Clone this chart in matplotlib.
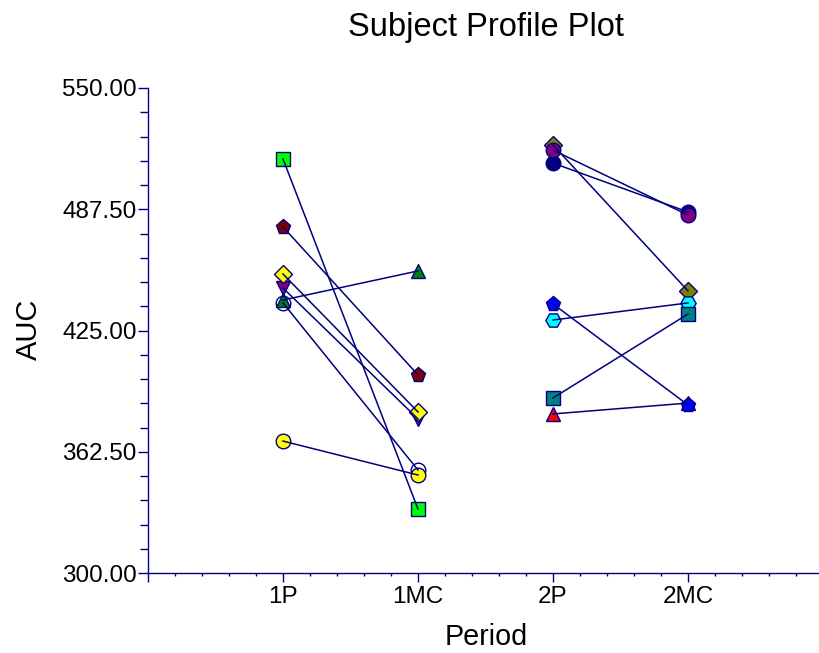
import numpy as np
import matplotlib
matplotlib.use('Agg')
import matplotlib.pyplot as plt
from matplotlib.ticker import FixedLocator, MultipleLocator

plt.rcParams['font.family'] = ['Liberation Sans', 'DejaVu Sans']

# period labels on the x axis
periods = ['1P', '1MC', '2P', '2MC']

# each subject: start period index, AUC in first and second period
start_pos = [1, 1, 1, 1, 1, 1, 1, 3, 3, 3, 3, 3, 3, 3]
auc_first = [513.4, 478.4, 446.9, 454.1, 440.7, 439.2, 368.0,
             520.6, 511.3, 518.0, 382.0, 438.7, 430.4, 390.2]
auc_second = [333.0, 402.1, 379.4, 383.0, 455.7, 353.1, 350.5,
              445.4, 486.1, 484.5, 387.6, 386.6, 439.2, 433.5]
markers = ['s', 'p', 'v', 'D', '^', 'o', 'o', 'D', 'o', 'o', '^', 'p', 'H', 's']
faces = ['#00FF00', '#800000', '#800080', '#FFFF00', '#008000', 'none', '#FFFF00',
         '#808000', '#000080', '#800080', '#FF0000', '#0000FF', '#00FFFF', '#008080']

navy = '#000080'
# marker sizes (points) per shape, to look alike in pixels
msize = {'s': 10, 'p': 11, 'v': 10, 'D': 9.5, '^': 10, 'o': 10.5, 'H': 11}

fig = plt.figure(figsize=(8.2, 6.53), dpi=100)
ax = fig.add_axes([148 / 820, 80 / 653, 672 / 820, 485 / 653])

for s, a, b, m, fc in zip(start_pos, auc_first, auc_second, markers, faces):
    xs = [s, s + 1]
    ys = [a, b]
    ax.plot(xs, ys, linestyle='none', marker=m, markersize=msize[m],
            markerfacecolor=fc, markeredgecolor=navy, markeredgewidth=1.0, zorder=2)
    ax.plot(xs, ys, color=navy, linewidth=1.1, zorder=3)

ax.set_xlim(0, 672 / 135)
ax.set_ylim(300, 550)

ax.xaxis.set_major_locator(FixedLocator([0, 1, 2, 3, 4]))
ax.set_xticklabels([''] + periods)
ax.xaxis.set_minor_locator(FixedLocator(np.arange(0, 5.0, 0.2)))
ax.yaxis.set_major_locator(FixedLocator([300, 362.5, 425, 487.5, 550]))
ax.set_yticklabels(['%.2f' % v for v in [300, 362.5, 425, 487.5, 550]])
ax.yaxis.set_minor_locator(MultipleLocator(12.5))

for side in ['top', 'right']:
    ax.spines[side].set_visible(False)
for side in ['left', 'bottom']:
    ax.spines[side].set_color(navy)
    ax.spines[side].set_linewidth(1.0)

ax.tick_params(axis='both', which='both', color=navy, width=1.0, direction='out')
ax.tick_params(axis='y', which='major', length=7, pad=1, labelsize=17.5)
ax.tick_params(axis='y', which='minor', length=5.5)
ax.tick_params(axis='x', which='major', length=6.5, pad=3, labelsize=17.5)
ax.tick_params(axis='x', which='minor', length=2.5)

fig.text(485.5 / 820, 1 - 36 / 653, 'Subject Profile Plot', ha='center', va='baseline', fontsize=23.5)
fig.text(486 / 820, 1 - 645 / 653, 'Period', ha='center', va='baseline', fontsize=20.7)
fig.text(37 / 820, 1 - 329 / 653, 'AUC', ha='center', va='baseline', rotation=90,
         rotation_mode='anchor', fontsize=21)

fig.savefig('out.png', dpi=100)
